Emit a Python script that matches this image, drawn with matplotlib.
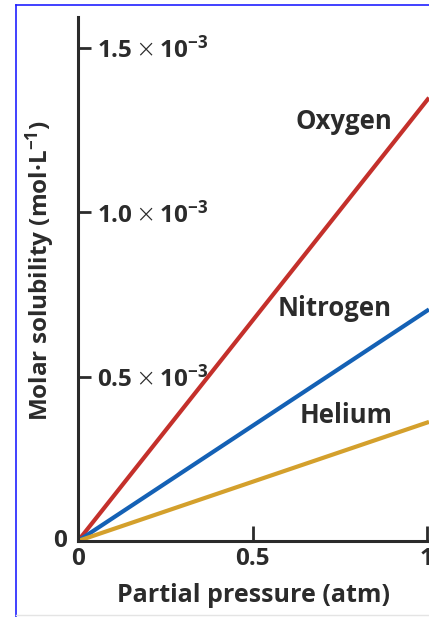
#!/usr/bin/env python3

import matplotlib
matplotlib.use("Agg")
import matplotlib.pyplot as plt
from matplotlib.lines import Line2D

# solubility at 1 atm (mol/L)
gases = ['Oxygen', 'Nitrogen', 'Helium']
slopes = [1.34e-3, 0.70e-3, 0.36e-3]
colors = ['#c4302b', '#1461b5', '#d4a02c']
pressure = [0.0, 1.0057]
label_pos = [(0.90, 1.274e-3), (0.90, 0.708e-3), (0.90, 0.383e-3)]

yticks = [0.5e-3, 1.0e-3, 1.5e-3]
ytick_labels = [r'$0.5\,\mathsf{\times}\,10^{-3}$', r'$1.0\,\mathsf{\times}\,10^{-3}$',
                r'$1.5\,\mathsf{\times}\,10^{-3}$']
xticks = [0, 0.5, 1]
xtick_labels = ['0', '0.5', '1']

plt.rcParams['font.family'] = ['Open Sans', 'DejaVu Sans']
plt.rcParams['font.weight'] = 'bold'
plt.rcParams['mathtext.fontset'] = 'custom'
plt.rcParams['mathtext.rm'] = 'Open Sans:bold'
plt.rcParams['mathtext.it'] = 'Open Sans:bold'
plt.rcParams['mathtext.bf'] = 'Open Sans:bold'
plt.rcParams['mathtext.sf'] = 'DejaVu Sans:light'
plt.rcParams['mathtext.default'] = 'rm'

ink = '#2b2b2b'

fig = plt.figure(figsize=(4.29, 6.17), dpi=100)
ax = fig.add_axes([78 / 429, 1 - 541 / 617, 1 - 78 / 429, (541 - 17) / 617])

for g, s, c in zip(gases, slopes, colors):
    ax.plot(pressure, [s * p for p in pressure], color=c, lw=3.0,
            solid_capstyle='butt')

for g, (px, py) in zip(gases, label_pos):
    ax.text(px, py, g, ha='right', va='center', fontsize=18.5,
            fontweight='bold', color=ink)

ax.set_xlim(0, 1.0057)
ax.set_ylim(0, 1.593e-3)

for side in ['top', 'right']:
    ax.spines[side].set_visible(False)
for side in ['left', 'bottom']:
    ax.spines[side].set_color(ink)
    ax.spines[side].set_linewidth(2.2)
ax.spines['bottom'].set_bounds(0, 1)

ax.set_xticks(xticks)
ax.set_xticklabels(xtick_labels)
ax.set_yticks(yticks)
ax.set_yticklabels(ytick_labels)
ax.tick_params(axis='x', direction='in', length=11, width=2.0, color=ink,
               labelsize=17.5, labelcolor=ink, pad=4)
ax.tick_params(axis='y', direction='in', length=9, width=2.0, color=ink,
               labelsize=17.5, labelcolor=ink, pad=-14)
for lab in ax.get_yticklabels():
    lab.set_horizontalalignment('left')

ax.text(-0.03, 0.0, '0', transform=ax.get_yaxis_transform(),
        ha='right', va='center', fontsize=17.5, fontweight='bold', color=ink)

ax.set_xlabel('Partial pressure (atm)', fontsize=18, fontweight='bold',
              color=ink, labelpad=9)
fig.text(40 / 429, 1 - 271 / 617, 'Molar solubility (mol\u00b7L$^{-1}$)',
         rotation=90, ha='center', va='center', fontsize=17.5,
         fontweight='bold', color=ink)

# frame around the panel
fig.add_artist(Line2D([16 / 429, 16 / 429], [0, 1 - 5 / 617],
                      transform=fig.transFigure, color='#2020ff', lw=1.2))
fig.add_artist(Line2D([16 / 429, 1], [1 - 5 / 617, 1 - 5 / 617],
                      transform=fig.transFigure, color='#2020ff', lw=1.2))
fig.add_artist(Line2D([16 / 429, 1], [2 / 617, 2 / 617],
                      transform=fig.transFigure, color='#e4e4e4', lw=1.0))

fig.savefig('out.png', dpi=100)
